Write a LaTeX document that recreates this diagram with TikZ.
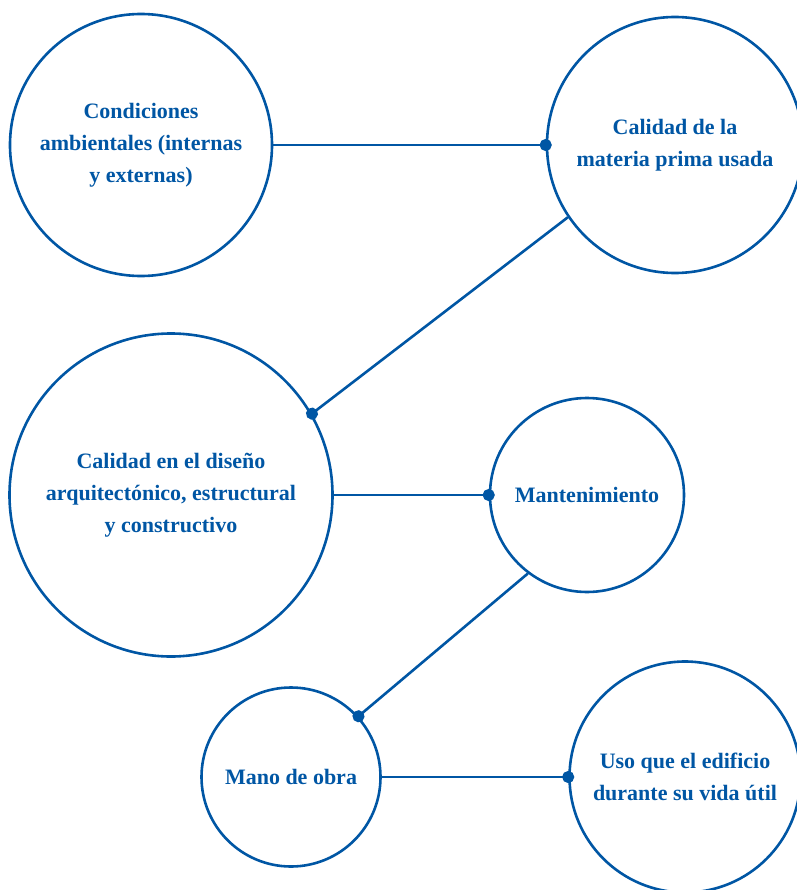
\documentclass[tikz,border=0pt]{standalone}
\usepackage{fontspec}
\setmainfont{Liberation Serif}
\usetikzlibrary{arrows.meta,positioning}
\definecolor{azul}{RGB}{0,86,164}

\begin{document}
\begin{tikzpicture}[x=1pt,y=-1pt,
  factor/.style={draw=azul, line width=2.6pt, circle, inner sep=0pt, align=center,
    text=azul, font=\fontsize{22}{32}\selectfont\bfseries},
  link/.style={draw=azul, line width=2.6pt, -{Circle[length=12pt,width=12pt]}, shorten >=-6pt}]
\useasboundingbox (0,0) rectangle (796,890);
\node[factor, minimum size=262pt] (cond) at (141,145) {Condiciones\\ambientales (internas\\y externas)};
\node[factor, minimum size=256pt] (mat) at (675,145) {Calidad de la\\materia prima usada};
\node[factor, minimum size=323pt] (dis) at (171,495) {Calidad en el diseño\\arquitectónico, estructural\\y constructivo};
\node[factor, minimum size=194pt] (mant) at (587,495) {Mantenimiento};
\node[factor, minimum size=179pt] (mano) at (291,777) {Mano de obra};
\node[factor, minimum size=231pt] (uso) at (685,777) {Uso que el edificio\\durante su vida útil};
\path
(cond) edge[link] (mat)
(mat.214) edge[link] (dis.30.7)
(dis) edge[link] (mant)
(mant.233.7) edge[link] (mano.42.3)
(mano) edge[link] (uso);
\end{tikzpicture}
\end{document}
